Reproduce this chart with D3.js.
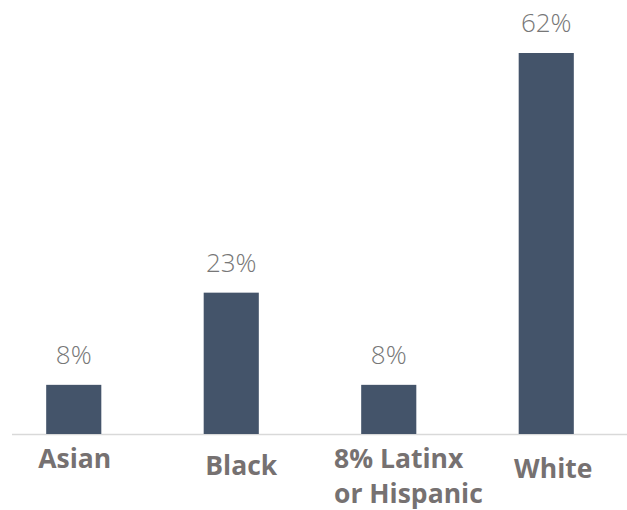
<!DOCTYPE html>
<html>
<head>
<meta charset="utf-8">
<script src="https://cdn.jsdelivr.net/npm/d3@7/dist/d3.min.js"></script>
<style>
  body { margin: 0; background: #fff; }
  svg { display: block; }
</style>
</head>
<body>
<svg id="chart"></svg>
<script>
// data
var categories = ["Asian", "Black", "Latinx", "White"];
var values = [8, 23, 8, 62];
var valueLabels = ["8%", "23%", "8%", "62%"];
var catLabels = [["Asian"], ["Black"], ["8% Latinx", "or Hispanic"], ["White"]];

// label placement tweaks (px)
var catDx = [1, 10, 0, 7];
var catDy = [34, 41, 34, 44];
var catAnchor = ["middle", "middle", "start", "middle"];
var catX0 = [null, null, 334, null];

var width = 627;
var height = 510;
var baseY = 434;

var svg = d3.select("#chart")
  .attr("width", width)
  .attr("height", height);

var x = d3.scaleBand()
  .domain(categories)
  .range([-5, 625])
  .paddingInner(0.65)
  .paddingOuter(0.325);

var y = d3.scaleLinear()
  .domain([0, 62])
  .range([baseY, 53]);

// baseline
svg.append("line")
  .attr("x1", 12)
  .attr("x2", width)
  .attr("y1", baseY + 0.5)
  .attr("y2", baseY + 0.5)
  .attr("stroke", "#d9d9d9")
  .attr("stroke-width", 1.5);

svg.selectAll(".bar")
  .data(values)
  .enter().append("rect")
  .attr("class", "bar")
  .attr("x", function(d, i) { return x(categories[i]); })
  .attr("y", function(d) { return y(d); })
  .attr("width", x.bandwidth())
  .attr("height", function(d) { return baseY - y(d); })
  .attr("fill", "#44546a");

svg.selectAll(".val")
  .data(values)
  .enter().append("text")
  .attr("class", "val")
  .attr("x", function(d, i) { return x(categories[i]) + x.bandwidth() / 2; })
  .attr("y", function(d) { return y(d) - 21; })
  .attr("text-anchor", "middle")
  .attr("font-family", "'Open Sans', sans-serif")
  .attr("font-weight", 350)
  .attr("font-size", 26)
  .attr("fill", "#777777")
  .text(function(d, i) { return valueLabels[i]; });

var cats = svg.selectAll(".cat")
  .data(catLabels)
  .enter().append("text")
  .attr("class", "cat")
  .attr("font-family", "'Open Sans', sans-serif")
  .attr("font-weight", 700)
  .attr("font-size", 26.5)
  .attr("fill", "#767171")
  .attr("text-anchor", function(d, i) { return catAnchor[i]; })
  .attr("transform", function(d, i) {
    var cx = catX0[i] != null ? catX0[i] : x(categories[i]) + x.bandwidth() / 2 + catDx[i];
    return "translate(" + cx + "," + (baseY + catDy[i]) + ")";
  });

cats.selectAll("tspan")
  .data(function(d) { return d; })
  .enter().append("tspan")
  .attr("x", 0)
  .attr("dy", function(d, j) { return j == 0 ? 0 : 35; })
  .text(function(d) { return d; });
</script>
</body>
</html>
